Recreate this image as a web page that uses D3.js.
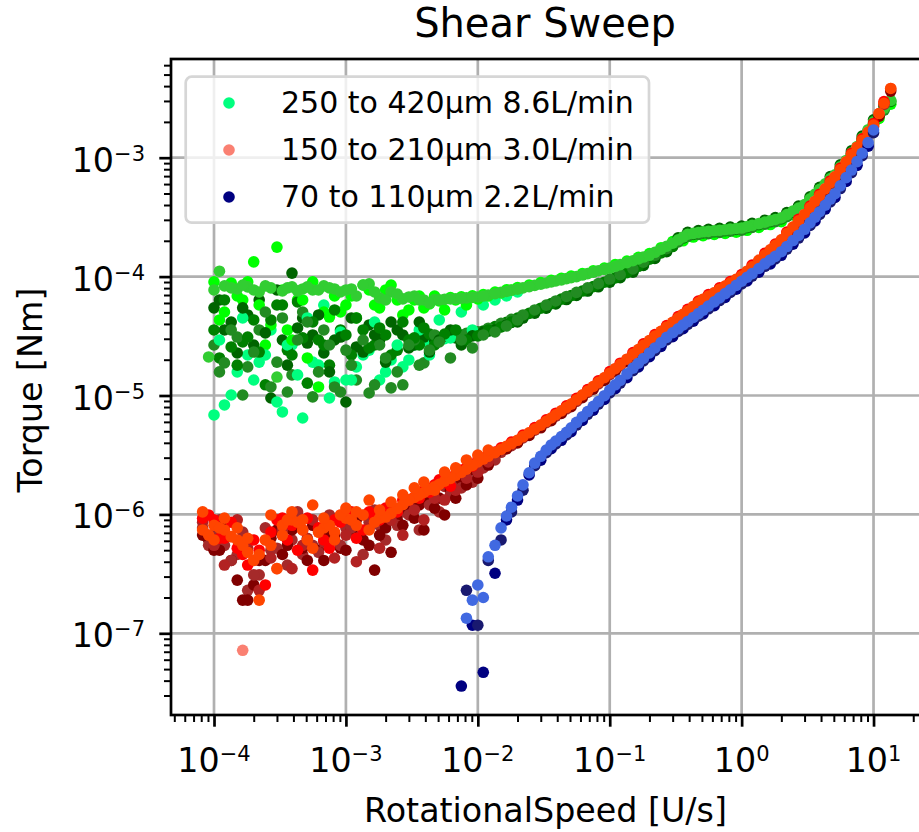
<!DOCTYPE html>
<html>
<head>
<meta charset="utf-8">
<title>Shear Sweep</title>
<script src="https://cdn.jsdelivr.net/npm/d3@7"></script>
<style>
  body { margin: 0; background: #fff; }
  svg text { font-family: "DejaVu Sans", sans-serif; fill: #000; }
</style>
</head>
<body>
<svg id="chart" width="919" height="832"></svg>
<script>
// rotational speed steps of the two sweep programs [U/s]
const speedA = [8.2e-5,
  1e-4, 1.2e-4, 1.5e-4, 1.8e-4, 2.2e-4, 2.7e-4, 3.3e-4, 3.9e-4, 4.7e-4, 5.6e-4, 6.8e-4, 8.2e-4,
  1e-3, 1.2e-3, 1.5e-3, 1.8e-3, 2.2e-3, 2.7e-3, 3.3e-3, 3.9e-3, 4.7e-3, 5.6e-3, 6.8e-3, 8.2e-3,
  1e-2, 1.2e-2, 1.5e-2, 1.8e-2, 2.2e-2, 2.7e-2, 3.3e-2, 3.9e-2, 4.7e-2, 5.6e-2, 6.8e-2, 8.2e-2,
  0.1, 0.12, 0.15, 0.18, 0.22, 0.27, 0.33, 0.39, 0.47, 0.56, 0.68, 0.82,
  1, 1.2, 1.5, 1.8, 2.2, 2.7, 3.3, 3.9, 4.7, 5.6, 6.8, 8.2,
  10, 12];
const speedB = [9.1e-5,
  1.1e-4, 1.35e-4, 1.65e-4, 2e-4, 2.45e-4, 3e-4, 3.6e-4, 4.3e-4, 5.1e-4, 6.2e-4, 7.5e-4, 9.1e-4,
  1.1e-3, 1.35e-3, 1.65e-3, 2e-3, 2.45e-3, 3e-3, 3.6e-3, 4.3e-3, 5.1e-3, 6.2e-3, 7.5e-3, 9.1e-3,
  1.1e-2, 1.35e-2, 1.65e-2, 2e-2, 2.45e-2, 3e-2, 3.6e-2, 4.3e-2, 5.1e-2, 6.2e-2, 7.5e-2, 9.1e-2,
  0.11, 0.135, 0.165, 0.2, 0.245, 0.3, 0.36, 0.43, 0.51, 0.62, 0.75, 0.91,
  1.1, 1.35, 1.65, 2, 2.45, 3, 3.6, 4.3, 5.1, 6.2, 7.5, 9.1,
  11, 13.5];

// torque [Nm], 250 to 420 µm runs
const coarseSpring = [
  6.86e-6, 8.33e-6, 1.58e-5, 2.19e-5, 1.91e-5, 3.56e-5, 7.27e-6, 2.66e-5, 6.47e-6, 1.91e-5, 5.77e-5, 1.30e-5,
  1.35e-5, 1.74e-5, 2.41e-5, 1.35e-5, 1.99e-5, 1.74e-5, 2.66e-5, 2.82e-5, 2.93e-5, 3.00e-5, 3.08e-5, 3.16e-5,
  3.26e-5, 3.50e-5, 3.84e-5, 4.15e-5, 4.53e-5, 4.99e-5, 5.48e-5, 5.94e-5, 6.48e-5, 7.01e-5, 7.63e-5, 8.29e-5,
  9.07e-5, 9.9e-5, 1.11e-4, 1.25e-4, 1.44e-4, 1.64e-4, 1.98e-4, 2.20e-4, 2.28e-4, 2.33e-4, 2.38e-4, 2.43e-4,
  2.48e-4, 2.62e-4, 2.78e-4, 2.93e-4, 3.22e-4, 3.66e-4, 4.37e-4, 5.26e-4, 6.47e-4, 8.13e-4, 1.07e-3, 1.42e-3,
  1.94e-3, 2.53e-3];
const coarseLime = [
  4.32e-5, 8.84e-5, 6.36e-5, 1.33e-4, 2.66e-5, 1.77e-4, 3.56e-5, 6.36e-5, 2.07e-5, 1.18e-5, 4.57e-5, 5.04e-5,
  6.87e-5, 8.50e-5, 5.77e-5, 7.72e-5, 6.36e-5, 5.24e-5, 6.87e-5, 5.89e-5, 6.24e-5, 6.67e-5, 6.77e-5, 6.89e-5,
  7.07e-5, 7.40e-5, 7.73e-5, 8.09e-5, 8.48e-5, 8.89e-5, 9.29e-5, 9.67e-5, 1.01e-4, 1.06e-4, 1.12e-4, 1.18e-4,
  1.26e-4, 1.35e-4, 1.45e-4, 1.56e-4, 1.75e-4, 1.97e-4, 2.00e-4, 2.15e-4, 2.21e-4, 2.26e-4, 2.31e-4, 2.36e-4,
  2.45e-4, 2.59e-4, 2.74e-4, 2.90e-4, 3.30e-4, 3.76e-4, 4.60e-4, 5.61e-4, 6.68e-4, 8.82e-4, 1.15e-3, 1.60e-3,
  2.14e-3, 2.82e-3];
const coarseDark = [
  5.46e-5, 3.56e-5, 2.28e-5, 4.76e-5, 6.36e-5, 9.53e-6, 2.93e-5, 1.07e-4, 4.49e-5, 3.23e-5, 2.28e-5, 2.93e-5,
  8.82e-6, 2.56e-5, 3.92e-5, 2.93e-5, 4.15e-5, 3.23e-5, 2.66e-5, 3.10e-5, 2.93e-5, 3.17e-5, 3.05e-5, 3.13e-5,
  3.23e-5, 3.47e-5, 3.80e-5, 4.11e-5, 4.48e-5, 4.93e-5, 5.42e-5, 5.88e-5, 6.41e-5, 6.94e-5, 7.56e-5, 8.21e-5,
  8.98e-5, 9.8e-5, 1.09e-4, 1.24e-4, 1.42e-4, 1.62e-4, 2.12e-4, 2.36e-4, 2.44e-4, 2.50e-4, 2.55e-4, 2.61e-4,
  2.66e-4, 2.81e-4, 2.98e-4, 3.14e-4, 3.45e-4, 3.92e-4, 4.68e-4, 5.64e-4, 6.94e-4, 8.72e-4, 1.14e-3, 1.52e-3,
  2.08e-3, 2.71e-3];
const coarseGreen = [
  2.07e-5, 2.56e-5, 2.82e-5, 4.32e-5, 1.23e-5, 5.77e-5, 2.41e-5, 6.12e-5, 1.27e-5, 2.93e-5, 1.80e-5, 3.56e-5,
  2.19e-5, 3.56e-5, 2.66e-5, 3.23e-5, 2.41e-5, 2.93e-5, 2.66e-5, 3.29e-5, 3.05e-5, 3.14e-5, 3.22e-5, 3.31e-5,
  3.49e-5, 3.80e-5, 4.13e-5, 4.47e-5, 4.91e-5, 5.42e-5, 5.93e-5, 6.47e-5, 6.92e-5, 7.56e-5, 8.23e-5, 8.97e-5,
  9.76e-5, 1.08e-4, 1.22e-4, 1.40e-4, 1.58e-4, 1.79e-4, 2.11e-4, 2.26e-4, 2.33e-4, 2.38e-4, 2.43e-4, 2.49e-4,
  2.58e-4, 2.73e-4, 2.89e-4, 3.06e-4, 3.48e-4, 3.96e-4, 4.85e-4, 5.91e-4, 7.04e-4, 9.29e-4, 1.22e-3, 1.69e-3,
  2.25e-3, 2.97e-3];
const coarseForest = [
  2.66e-5, 1.88e-5, 3.10e-5, 1.74e-5, 3.56e-5, 1.18e-5, 4.49e-5, 1.49e-5, 5.04e-5, 9.74e-6, 3.56e-5, 1.18e-5,
  2.41e-5, 1.35e-5, 1.05e-5, 2.66e-5, 1.16e-5, 1.23e-5, 2.93e-5, 1.88e-5, 3.23e-5, 3.15e-5, 3.24e-5, 3.33e-5,
  3.43e-5, 3.68e-5, 4.04e-5, 4.37e-5, 4.76e-5, 5.24e-5, 5.76e-5, 6.24e-5, 6.81e-5, 7.37e-5, 8.03e-5, 8.72e-5,
  9.54e-5, 1.04e-4, 1.16e-4, 1.32e-4, 1.51e-4, 1.72e-4, 1.96e-4, 2.18e-4, 2.26e-4, 2.30e-4, 2.35e-4, 2.41e-4,
  2.46e-4, 2.59e-4, 2.76e-4, 2.90e-4, 3.19e-4, 3.62e-4, 4.32e-4, 5.20e-4, 6.40e-4, 8.04e-4, 1.06e-3, 1.40e-3,
  1.92e-3, 2.51e-3];
// repeat runs of the same sample, low-speed part until they join the band
const coarseSpring2 = [
  2.93e-5, 1.01e-5, 4.49e-5, 1.35e-5, 2.19e-5, 8.82e-6, 2.66e-5, 1.49e-5, 4.49e-5, 1.80e-5, 9.53e-6, 3.42e-5,
  1.35e-5, 2.19e-5, 4.15e-5, 1.58e-5, 2.66e-5, 1.99e-5, 3.56e-5, 2.19e-5, 4.32e-5, 3.05e-5, 5.04e-5, 3.56e-5,
  5.77e-5, 6.36e-5, 6.87e-5, 7.43e-5];
const coarseLime2 = [
  9.02e-5, 5.04e-5, 6.87e-5, 9.02e-5, 5.77e-5, 3.92e-5, 7.72e-5, 2.93e-5, 6.36e-5, 9.02e-5, 5.04e-5, 6.87e-5,
  5.77e-5, 4.49e-5, 7.72e-5, 5.46e-5, 8.50e-5, 4.76e-5, 6.36e-5, 5.46e-5, 6.87e-5, 5.24e-5, 6.36e-5, 5.77e-5,
  6.49e-5, 6.87e-5, 7.29e-5, 7.72e-5];
const coarseDark2 = [
  6.36e-5, 4.15e-5, 5.46e-5, 2.66e-5, 3.36e-5, 7.72e-5, 1.80e-5, 3.70e-5, 2.76e-5, 4.76e-5, 1.58e-5, 3.10e-5,
  4.49e-5, 2.32e-5, 3.23e-5, 1.91e-5, 3.56e-5, 2.51e-5, 4.15e-5, 2.32e-5, 2.93e-5, 3.56e-5, 2.66e-5, 3.17e-5,
  3.42e-5, 3.56e-5, 3.92e-5, 4.15e-5];
const coarseGreen2 = [
  3.56e-5, 6.36e-5, 1.80e-5, 3.10e-5, 2.32e-5, 4.32e-5, 5.77e-5, 2.19e-5, 3.05e-5, 4.15e-5, 2.66e-5, 5.24e-5,
  3.23e-5, 4.49e-5, 2.51e-5, 3.70e-5, 2.19e-5, 4.15e-5, 3.05e-5, 3.70e-5, 2.66e-5, 3.29e-5, 3.56e-5, 2.93e-5,
  3.17e-5, 3.56e-5, 3.77e-5, 4.15e-5];
const coarseForest2 = [
  1.58e-5, 3.56e-5, 1.01e-5, 2.32e-5, 5.04e-5, 1.91e-5, 1.07e-5, 2.93e-5, 4.15e-5, 1.58e-5, 2.66e-5, 1.07e-5,
  1.80e-5, 2.93e-5, 1.23e-5, 2.07e-5, 1.58e-5, 2.66e-5, 1.80e-5, 2.41e-5, 2.82e-5, 2.07e-5, 2.93e-5, 2.51e-5,
  3.23e-5, 3.42e-5, 3.84e-5, 4.32e-5];
const coarseLimeGreenA = [
  7.72e-5, 8.35e-5, 7.87e-5, 8.19e-5, 7.43e-5, 8.03e-5, 7.58e-5, 8.19e-5, 7.87e-5, 7.72e-5, 8.35e-5, 7.87e-5,
  7.72e-5, 6.87e-5, 8.68e-5, 6.62e-5, 7.43e-5, 6.49e-5, 6.87e-5, 6.36e-5, 6.40e-5, 6.43e-5, 6.52e-5, 6.62e-5,
  6.74e-5, 7.00e-5, 7.37e-5, 7.68e-5, 8.04e-5, 8.43e-5, 8.83e-5, 9.19e-5, 9.61e-5, 1.00e-4, 1.06e-4, 1.12e-4,
  1.18e-4, 1.26e-4, 1.36e-4, 1.46e-4, 1.60e-4, 1.80e-4, 2.04e-4, 2.27e-4, 2.35e-4, 2.40e-4, 2.45e-4, 2.51e-4,
  2.56e-4, 2.70e-4, 2.87e-4, 3.02e-4, 3.32e-4, 3.77e-4, 4.50e-4, 5.42e-4, 6.67e-4, 8.38e-4, 1.10e-3, 1.46e-3,
  2.00e-3, 2.61e-3];
const coarseLimeGreenB = [2.11e-5,
  1.11e-4, 8.03e-5, 8.50e-5, 7.72e-5, 8.35e-5, 1.43e-5, 8.03e-5, 7.58e-5, 8.19e-5, 7.72e-5, 8.03e-5, 7.43e-5,
  7.87e-5, 8.50e-5, 7.43e-5, 6.36e-5, 7.14e-5, 6.74e-5, 6.36e-5, 5.99e-5, 6.37e-5, 6.48e-5, 6.57e-5, 6.69e-5,
  6.86e-5, 7.18e-5, 7.50e-5, 7.85e-5, 8.23e-5, 8.63e-5, 9.02e-5, 9.39e-5, 9.79e-5, 1.03e-4, 1.09e-4, 1.15e-4,
  1.22e-4, 1.31e-4, 1.41e-4, 1.51e-4, 1.70e-4, 1.91e-4, 2.15e-4, 2.31e-4, 2.38e-4, 2.43e-4, 2.48e-4, 2.54e-4,
  2.63e-4, 2.79e-4, 2.95e-4, 3.12e-4, 3.55e-4, 4.04e-4, 4.95e-4, 6.03e-4, 7.18e-4, 9.48e-4, 1.24e-3, 1.72e-3,
  2.30e-3, 3.03e-3];

// torque [Nm], 150 to 210 µm runs
const mediumSalmon = [6.7e-7,
  7.7e-7, 6.5e-7, 7.2e-8, 4.1e-7, 6.1e-7, 3.5e-7, 9.0e-7, 8.6e-7, 6.1e-7, 7.1e-7, 8.1e-7, 9.9e-7,
  9.0e-7, 9.9e-7, 8.6e-7, 9.5e-7, 1.12e-6, 1.32e-6, 1.46e-6, 1.62e-6, 1.79e-6, 2.01e-6, 2.26e-6, 2.58e-6,
  2.92e-6, 3.31e-6, 3.74e-6, 4.20e-6, 4.86e-6, 5.63e-6, 6.47e-6, 7.43e-6, 8.47e-6, 1.01e-5, 1.19e-5, 1.41e-5,
  1.68e-5, 2.02e-5, 2.43e-5, 2.90e-5, 3.46e-5, 4.13e-5, 4.82e-5, 5.60e-5, 6.43e-5, 7.31e-5, 8.33e-5, 9.47e-5,
  1.11e-4, 1.37e-4, 1.68e-4, 2.04e-4, 2.61e-4, 3.33e-4, 4.29e-4, 5.47e-4, 6.91e-4, 9.22e-4, 1.22e-3, 1.64e-3,
  2.35e-3, 3.82e-3];
const mediumBrown = [7.7e-7,
  6.7e-7, 5.5e-7, 4.6e-7, 2.3e-7, 3.1e-7, 5.0e-7, 6.7e-7, 6.1e-7, 4.6e-7, 5.5e-7, 7.4e-7, 6.1e-7,
  7.7e-7, 7.0e-7, 8.6e-7, 8.1e-7, 9.0e-7, 1.05e-6, 1.20e-6, 1.37e-6, 1.48e-6, 1.72e-6, 1.93e-6, 2.22e-6,
  2.55e-6, 2.90e-6, 3.33e-6, 3.79e-6, 4.4e-6, 5.1e-6, 5.9e-6, 6.7e-6, 7.7e-6, 8.9e-6, 1.06e-5, 1.25e-5,
  1.50e-5, 1.77e-5, 2.17e-5, 2.57e-5, 3.08e-5, 3.67e-5, 4.36e-5, 5.02e-5, 5.88e-5, 6.67e-5, 7.6e-5, 8.6e-5,
  9.8e-5, 1.18e-4, 1.48e-4, 1.78e-4, 2.24e-4, 2.86e-4, 3.71e-4, 4.66e-4, 6.0e-4, 7.7e-4, 1.03e-3, 1.36e-3,
  1.83e-3, 2.8e-3];
const mediumMaroon = [6.1e-7,
  5.0e-7, 4.1e-7, 1.9e-7, 2.55e-7, 4.1e-7, 7.4e-7, 5.5e-7, 8.1e-7, 4.1e-7, 5.0e-7, 6.7e-7, 5.2e-7,
  7.4e-7, 6.1e-7, 3.4e-7, 7.7e-7, 9.0e-7, 1.05e-6, 1.20e-6, 1.32e-6, 1.37e-6, 1.60e-6, 1.95e-6, 2.36e-6,
  2.65e-6, 3.14e-6, 3.55e-6, 3.99e-6, 4.62e-6, 5.35e-6, 6.15e-6, 7.06e-6, 8.05e-6, 9.6e-6, 1.13e-5, 1.34e-5,
  1.60e-5, 1.92e-5, 2.31e-5, 2.76e-5, 3.29e-5, 3.92e-5, 4.58e-5, 5.32e-5, 6.11e-5, 6.94e-5, 7.91e-5, 9.0e-5,
  1.05e-4, 1.30e-4, 1.60e-4, 1.94e-4, 2.48e-4, 3.16e-4, 4.08e-4, 5.2e-4, 6.56e-4, 8.76e-4, 1.16e-3, 1.56e-3,
  2.23e-3, 3.63e-3];
const mediumRed = [9.3e-7,
  9.0e-7, 6.3e-7, 5.2e-7, 3.75e-7, 5.0e-7, 7.1e-7, 9.3e-7, 8.1e-7, 7.4e-7, 3.4e-7, 6.1e-7, 9.0e-7,
  9.9e-7, 6.3e-7, 1.05e-6, 9.0e-7, 1.09e-6, 1.32e-6, 1.40e-6, 1.60e-6, 1.77e-6, 1.87e-6, 2.19e-6, 2.46e-6,
  2.87e-6, 3.17e-6, 3.63e-6, 4.06e-6, 4.65e-6, 5.38e-6, 6.24e-6, 7.10e-6, 8.19e-6, 9.48e-6, 1.12e-5, 1.33e-5,
  1.59e-5, 1.87e-5, 2.30e-5, 2.72e-5, 3.25e-5, 3.88e-5, 4.61e-5, 5.31e-5, 6.22e-5, 7.06e-5, 8.03e-5, 9.09e-5,
  1.04e-4, 1.25e-4, 1.57e-4, 1.88e-4, 2.37e-4, 3.03e-4, 3.92e-4, 4.93e-4, 6.37e-4, 8.19e-4, 1.09e-3, 1.44e-3,
  1.94e-3, 2.96e-3];
const mediumOrangeA = [7.4e-7,
  8.1e-7, 7.4e-7, 6.1e-7, 4.8e-7, 1.9e-7, 5.5e-7, 8.1e-7, 9.0e-7, 7.4e-7, 5.2e-7, 7.7e-7, 7.1e-7,
  9.3e-7, 8.1e-7, 7.4e-7, 9.3e-7, 1.02e-6, 1.21e-6, 1.39e-6, 1.53e-6, 1.71e-6, 1.90e-6, 2.13e-6, 2.40e-6,
  2.76e-6, 3.08e-6, 3.52e-6, 3.94e-6, 4.51e-6, 5.22e-6, 6.06e-6, 6.89e-6, 7.95e-6, 9.2e-6, 1.09e-5, 1.29e-5,
  1.54e-5, 1.82e-5, 2.23e-5, 2.64e-5, 3.16e-5, 3.77e-5, 4.48e-5, 5.16e-5, 6.04e-5, 6.85e-5, 7.80e-5, 8.83e-5,
  1.01e-4, 1.21e-4, 1.52e-4, 1.83e-4, 2.30e-4, 2.94e-4, 3.81e-4, 4.79e-4, 6.18e-4, 7.95e-4, 1.06e-3, 1.40e-3,
  1.88e-3, 2.87e-3];
const mediumOrangeB = [6.7e-7,
  7.7e-7, 6.5e-7, 5.5e-7, 4.1e-7, 6.1e-7, 3.5e-7, 9.0e-7, 8.6e-7, 6.1e-7, 7.1e-7, 8.1e-7, 9.9e-7,
  9.0e-7, 9.9e-7, 8.6e-7, 9.5e-7, 1.12e-6, 1.32e-6, 1.46e-6, 1.62e-6, 1.79e-6, 2.01e-6, 2.26e-6, 2.58e-6,
  2.92e-6, 3.31e-6, 3.74e-6, 4.20e-6, 4.86e-6, 5.63e-6, 6.47e-6, 7.43e-6, 8.47e-6, 1.01e-5, 1.19e-5, 1.41e-5,
  1.68e-5, 2.02e-5, 2.43e-5, 2.90e-5, 3.46e-5, 4.13e-5, 4.82e-5, 5.60e-5, 6.43e-5, 7.31e-5, 8.33e-5, 9.47e-5,
  1.11e-4, 1.37e-4, 1.68e-4, 2.04e-4, 2.61e-4, 3.33e-4, 4.29e-4, 5.47e-4, 6.91e-4, 9.22e-4, 1.22e-3, 1.64e-3,
  2.35e-3, 3.82e-3];
// repeat runs, low-speed part
const mediumBrown2 = [5.5e-7,
  9.0e-7, 4.1e-7, 7.1e-7, 3.1e-7, 7.7e-7, 5.2e-7, 3.75e-7, 1.05e-6, 6.3e-7, 4.8e-7, 9.9e-7, 5.5e-7,
  7.7e-7, 4.6e-7, 1.09e-6, 6.1e-7, 8.1e-7, 9.9e-7, 7.4e-7, 1.20e-6, 1.05e-6, 1.46e-6, 1.67e-6, 1.87e-6,
  2.46e-6, 2.87e-6];
const mediumMaroon2 = [6.7e-7,
  5.0e-7, 8.1e-7, 2.8e-7, 1.9e-7, 4.1e-7, 6.3e-7, 4.6e-7, 7.4e-7, 5.2e-7, 8.1e-7, 4.1e-7, 6.7e-7,
  5.0e-7, 9.0e-7, 5.5e-7, 6.7e-7, 4.8e-7, 8.1e-7, 9.3e-7, 7.4e-7, 1.13e-6, 9.9e-7, 1.37e-6, 1.77e-6,
  2.02e-6, 2.60e-6];
const mediumFirebrick = [8.6e-7,
  5.5e-7, 3.75e-7, 9.0e-7, 5.2e-7, 2.3e-7, 4.3e-7, 7.4e-7, 3.5e-7, 5.5e-7, 9.0e-7, 5.85e-7, 4.3e-7,
  6.7e-7, 4.0e-7, 7.7e-7, 5.2e-7, 9.0e-7, 6.7e-7, 1.09e-6, 9.0e-7, 1.37e-6, 1.32e-6, 1.60e-6, 2.02e-6,
  2.27e-6, 2.76e-6];
const mediumRed2 = [9.9e-7,
  6.3e-7, 8.6e-7, 4.6e-7, 6.1e-7, 2.55e-7, 9.0e-7, 6.1e-7, 5.0e-7, 9.3e-7, 7.7e-7, 5.2e-7, 8.6e-7,
  1.05e-6, 7.4e-7, 9.3e-7, 1.13e-6, 1.05e-6, 1.32e-6, 1.37e-6, 1.54e-6, 1.95e-6, 1.73e-6, 2.36e-6, 2.55e-6,
  2.98e-6, 3.35e-6];
const mediumOrange2 = [1.05e-6,
  6.1e-7, 9.3e-7, 7.7e-7, 6.3e-7, 4.6e-7, 9.9e-7, 6.7e-7, 1.05e-6, 9.0e-7, 1.20e-6, 9.3e-7, 6.1e-7,
  1.13e-6, 1.05e-6, 1.32e-6, 1.09e-6, 1.27e-6, 1.46e-6, 1.67e-6, 1.87e-6, 1.60e-6, 2.27e-6, 2.46e-6, 2.87e-6,
  3.16e-6, 3.48e-6];

// torque [Nm], 70 to 110 µm runs (only measurable from ~8e-3 U/s)
const fineNavy = [3.6e-8, 1.17e-7,
  4.7e-8, 3.2e-7, 9.0e-7, 1.32e-6, 2.15e-6, 2.86e-6, 3.57e-6, 4.20e-6, 4.97e-6, 6.17e-6, 7.54e-6, 9.26e-6,
  1.14e-5, 1.41e-5, 1.74e-5, 2.12e-5, 2.59e-5, 3.13e-5, 3.65e-5, 4.21e-5, 4.85e-5, 5.70e-5, 6.69e-5, 7.85e-5,
  9.19e-5, 1.09e-4, 1.28e-4, 1.51e-4, 1.87e-4, 2.33e-4, 2.94e-4, 3.70e-4, 4.63e-4, 6.32e-4, 8.62e-4, 1.25e-3];
const fineMidnight = [2.3e-7,
  1.17e-7, 4.1e-7, 6.1e-7, 1.05e-6, 1.60e-6, 2.57e-6, 3.30e-6, 3.92e-6, 4.66e-6, 5.64e-6, 6.95e-6, 8.45e-6,
  1.05e-5, 1.27e-5, 1.62e-5, 1.95e-5, 2.38e-5, 2.93e-5, 3.46e-5, 3.97e-5, 4.64e-5, 5.36e-5, 6.29e-5, 7.35e-5,
  8.68e-5, 1.01e-4, 1.22e-4, 1.41e-4, 1.70e-4, 2.11e-4, 2.69e-4, 3.33e-4, 4.25e-4, 5.50e-4, 7.48e-4, 1.04e-3,
  1.62e-3];
const fineRoyalA = [1.34e-7,
  2.55e-7, 4.4e-7, 7.7e-7, 1.15e-6, 1.77e-6, 2.70e-6, 3.47e-6, 4.13e-6, 4.90e-6, 5.94e-6, 7.32e-6, 8.89e-6,
  1.11e-5, 1.34e-5, 1.70e-5, 2.05e-5, 2.51e-5, 3.08e-5, 3.64e-5, 4.18e-5, 4.88e-5, 5.64e-5, 6.62e-5, 7.74e-5,
  9.14e-5, 1.06e-4, 1.28e-4, 1.48e-4, 1.79e-4, 2.22e-4, 2.83e-4, 3.51e-4, 4.47e-4, 5.79e-4, 7.87e-4, 1.09e-3,
  1.71e-3];
const fineRoyalB = [1.9e-7,
  2.0e-7, 5.5e-7, 9.7e-7, 1.43e-6, 2.24e-6, 3.08e-6, 3.84e-6, 4.52e-6, 5.34e-6, 6.63e-6, 8.11e-6, 9.96e-6,
  1.23e-5, 1.52e-5, 1.87e-5, 2.28e-5, 2.79e-5, 3.37e-5, 3.92e-5, 4.53e-5, 5.21e-5, 6.13e-5, 7.19e-5, 8.44e-5,
  9.88e-5, 1.17e-4, 1.38e-4, 1.62e-4, 2.01e-4, 2.50e-4, 3.16e-4, 3.98e-4, 4.98e-4, 6.80e-4, 9.27e-4, 1.34e-3];

const groupLabels = ['250 to 420\u00b5m 8.6L/min', '150 to 210\u00b5m 3.0L/min', '70 to 110\u00b5m 2.2L/min'];

// drawing order = plotting order; first run of a group carries the legend entry
// "from" is the index of the first speed step the run was recorded at
const runs = [
  {group: 0, color: 'springgreen', speeds: speedA, from: 1, torque: coarseSpring},
  {group: 0, color: 'lime', speeds: speedB, from: 1, torque: coarseLime},
  {group: 0, color: 'darkgreen', speeds: speedA, from: 1, torque: coarseDark},
  {group: 0, color: 'green', speeds: speedB, from: 1, torque: coarseGreen},
  {group: 0, color: 'forestgreen', speeds: speedA, from: 1, torque: coarseForest},
  {group: 0, color: 'springgreen', speeds: speedB, from: 1, torque: coarseSpring2},
  {group: 0, color: 'lime', speeds: speedA, from: 1, torque: coarseLime2},
  {group: 0, color: 'darkgreen', speeds: speedB, from: 1, torque: coarseDark2},
  {group: 0, color: 'green', speeds: speedA, from: 1, torque: coarseGreen2},
  {group: 0, color: 'forestgreen', speeds: speedB, from: 1, torque: coarseForest2},
  {group: 0, color: 'limegreen', speeds: speedA, from: 1, torque: coarseLimeGreenA},
  {group: 0, color: 'limegreen', speeds: speedB, from: 0, torque: coarseLimeGreenB},
  {group: 1, color: 'salmon', speeds: speedB, from: 0, torque: mediumSalmon},
  {group: 1, color: 'brown', speeds: speedA, from: 0, torque: mediumBrown},
  {group: 1, color: 'maroon', speeds: speedB, from: 0, torque: mediumMaroon},
  {group: 1, color: 'brown', speeds: speedB, from: 0, torque: mediumBrown2},
  {group: 1, color: 'maroon', speeds: speedA, from: 0, torque: mediumMaroon2},
  {group: 1, color: 'firebrick', speeds: speedA, from: 0, torque: mediumFirebrick},
  {group: 1, color: 'red', speeds: speedA, from: 0, torque: mediumRed},
  {group: 1, color: 'red', speeds: speedB, from: 0, torque: mediumRed2},
  {group: 1, color: 'orangered', speeds: speedA, from: 0, torque: mediumOrangeA},
  {group: 1, color: 'orangered', speeds: speedB, from: 0, torque: mediumOrangeB},
  {group: 1, color: 'orangered', speeds: speedA, from: 0, torque: mediumOrange2},
  {group: 2, color: 'navy', speeds: speedB, from: 23, torque: fineNavy},
  {group: 2, color: 'midnightblue', speeds: speedA, from: 24, torque: fineMidnight},
  {group: 2, color: 'royalblue', speeds: speedA, from: 24, torque: fineRoyalA},
  {group: 2, color: 'royalblue', speeds: speedB, from: 24, torque: fineRoyalB}
];

const plot = {left: 171, right: 921, top: 59, bottom: 715};
const lw = 2.7;   // 0.8pt lines at the figure dpi
const markerR = 5.8;

const svg = d3.select('#chart');

const x = d3.scaleLog().domain([4.72e-5, 22.9]).range([plot.left, plot.right]);
const y = d3.scaleLog().domain([2.056e-8, 6.76e-3]).range([plot.bottom, plot.top]);

const isDecade = v => Math.abs(Math.log10(v) - Math.round(Math.log10(v))) < 1e-9;
const xMajor = x.ticks().filter(isDecade);
const xMinor = x.ticks().filter(v => !isDecade(v));
const yMajor = y.ticks().filter(isDecade);
const yMinor = y.ticks().filter(v => !isDecade(v));

// grid
const grid = svg.append('g').attr('stroke', '#b0b0b0').attr('stroke-width', lw);
grid.selectAll('.gx').data(xMajor).join('line').attr('class', 'gx')
  .attr('x1', d => x(d)).attr('x2', d => x(d))
  .attr('y1', plot.top).attr('y2', plot.bottom);
grid.selectAll('.gy').data(yMajor).join('line').attr('class', 'gy')
  .attr('x1', plot.left).attr('x2', plot.right)
  .attr('y1', d => y(d)).attr('y2', d => y(d));

// scatter points
svg.append('clipPath').attr('id', 'plotclip').append('rect')
  .attr('x', plot.left).attr('y', plot.top)
  .attr('width', plot.right - plot.left).attr('height', plot.bottom - plot.top);
const pts = svg.append('g').attr('clip-path', 'url(#plotclip)');
runs.forEach(run => {
  const data = run.torque
    .map((t, i) => [run.speeds[run.from + i], t])
    .filter(d => d[0] != null && d[1] != null);
  pts.append('g').selectAll('circle').data(data).join('circle')
    .attr('cx', d => x(d[0]))
    .attr('cy', d => y(d[1]))
    .attr('r', markerR)
    .attr('fill', run.color);
});

// ticks
function styleAxis(g, width) {
  g.select('.domain').remove();
  g.selectAll('.tick line').attr('stroke', '#000').attr('stroke-width', width);
  g.selectAll('.tick text').remove();
}
svg.append('g').attr('transform', `translate(0,${plot.bottom})`)
  .call(d3.axisBottom(x).tickValues(xMinor).tickSize(7).tickFormat(''))
  .call(g => styleAxis(g, 2));
svg.append('g').attr('transform', `translate(0,${plot.bottom})`)
  .call(d3.axisBottom(x).tickValues(xMajor).tickSize(11.7).tickFormat(''))
  .call(g => styleAxis(g, lw));
svg.append('g').attr('transform', `translate(${plot.left},0)`)
  .call(d3.axisLeft(y).tickValues(yMinor).tickSize(7).tickFormat(''))
  .call(g => styleAxis(g, 2));
svg.append('g').attr('transform', `translate(${plot.left},0)`)
  .call(d3.axisLeft(y).tickValues(yMajor).tickSize(11.7).tickFormat(''))
  .call(g => styleAxis(g, lw));

// 10^n labels
function powerLabel(sel, v) {
  const e = Math.round(Math.log10(v));
  sel.append('tspan').text('10');
  sel.append('tspan').attr('dy', -11).attr('font-size', 21)
    .text((e < 0 ? '\u2212' : '') + Math.abs(e));
}
svg.append('g').selectAll('text').data(xMajor).join('text')
  .attr('x', d => x(d)).attr('y', 771.7)
  .attr('text-anchor', 'middle').attr('font-size', 33.3)
  .each(function (d) { powerLabel(d3.select(this), d); });
svg.append('g').selectAll('text').data(yMajor).join('text')
  .attr('x', 145).attr('y', d => y(d) + 14)
  .attr('text-anchor', 'end').attr('font-size', 33.3)
  .each(function (d) { powerLabel(d3.select(this), d); });

// spines (right one sits just outside the picture)
svg.append('rect')
  .attr('x', plot.left).attr('y', plot.top)
  .attr('width', plot.right - plot.left).attr('height', plot.bottom - plot.top)
  .attr('fill', 'none').attr('stroke', '#000').attr('stroke-width', lw);

// labels
svg.append('text').attr('x', 545).attr('y', 37).attr('text-anchor', 'middle')
  .attr('font-size', 40).text('Shear Sweep');
svg.append('text').attr('x', 545.5).attr('y', 822).attr('text-anchor', 'middle')
  .attr('font-size', 33.3).text('RotationalSpeed [U/s]');
svg.append('text').attr('transform', 'translate(42,390) rotate(-90)')
  .attr('text-anchor', 'middle').attr('font-size', 33.3).text('Torque [Nm]');

// legend
const legend = svg.append('g');
legend.append('rect')
  .attr('x', 185.7).attr('y', 76.7).attr('width', 463.3).attr('height', 146)
  .attr('rx', 6).attr('ry', 6)
  .attr('fill', '#fff').attr('fill-opacity', 0.8)
  .attr('stroke', '#d6d6d6').attr('stroke-width', lw);
const legendRuns = groupLabels.map((label, i) => ({label, color: runs.find(r => r.group === i).color}));
const entry = legend.selectAll('.entry').data(legendRuns).join('g').attr('class', 'entry')
  .attr('transform', (d, i) => `translate(0,${103 + i * 47})`);
entry.append('circle').attr('cx', 229).attr('cy', 0).attr('r', markerR).attr('fill', d => d.color);
entry.append('text').attr('x', 281).attr('y', 10).attr('font-size', 30).text(d => d.label);
</script>
</body>
</html>
